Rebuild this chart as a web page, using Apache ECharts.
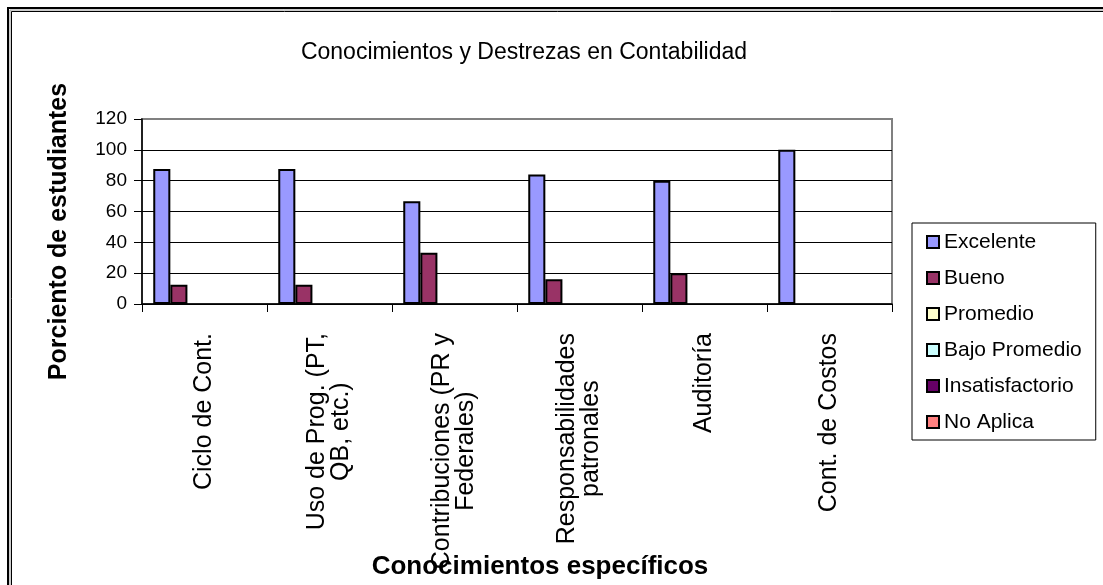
<!DOCTYPE html>
<html>
<head>
<meta charset="utf-8">
<script src="https://cdn.jsdelivr.net/npm/echarts@6/dist/echarts.min.js"></script>
<style>
  html, body { margin: 0; padding: 0; background: #fff; }
  #chart { width: 1103px; height: 585px; }
</style>
</head>
<body>
<div id="chart"></div>
<script>
// categorías del eje X (con saltos de línea como en el original)
const categories = [
  'Ciclo de Cont.',
  'Uso de Prog. (PT,\nQB, etc.)',
  'Contribuciones (PR y\nFederales)',
  'Responsabilidades\npatronales',
  'Auditoría',
  'Cont. de Costos'
]
const seriesNames = ['Excelente', 'Bueno', 'Promedio', 'Bajo Promedio', 'Insatisfactorio', 'No Aplica']
const excelente = [87.5, 87.5, 66.7, 84, 80, 100]
const bueno = [12.5, 12.5, 33.3, 16, 20, 0]
const promedio = [0, 0, 0, 0, 0, 0]
const bajoPromedio = [0, 0, 0, 0, 0, 0]
const insatisfactorio = [0, 0, 0, 0, 0, 0]
const noAplica = [0, 0, 0, 0, 0, 0]
const yTicks = [0, 20, 40, 60, 80, 100, 120]

const seriesData = [excelente, bueno, promedio, bajoPromedio, insatisfactorio, noAplica]
const colors = ['#9999FF', '#993366', '#FFFFCC', '#CCFFFF', '#660066', '#FF8080']
const FONT = '"Liberation Sans", Arial, sans-serif'

const chart = echarts.init(document.getElementById('chart'), null, { renderer: 'canvas' })

chart.setOption({
  backgroundColor: '#fff',
  animation: false,
  title: {
    text: 'Conocimientos y Destrezas en Contabilidad',
    left: 519,
    top: 36,
    textAlign: 'center',
    textStyle: { fontFamily: FONT, fontSize: 23, fontWeight: 'normal', color: '#000' }
  },
  legend: {
    orient: 'vertical',
    left: 912,
    top: 223,
    padding: [8, 14, 7, 14],
    borderColor: '#000',
    borderWidth: 1,
    icon: 'rect',
    itemWidth: 12,
    itemHeight: 12,
    itemGap: 14,
    data: seriesNames,
    textStyle: { fontFamily: FONT, fontSize: 21, lineHeight: 22, color: '#000' }
  },
  grid: {
    left: 142, right: 211, top: 119, bottom: 281,
    outerBoundsMode: 'none',
    show: true, borderColor: '#808080', borderWidth: 2
  },
  xAxis: {
    type: 'category',
    data: categories,
    name: 'Conocimientos específicos',
    nameLocation: 'middle',
    nameGap: 250,
    nameMoveOverlap: false,
    nameTextStyle: {
      fontFamily: FONT, fontSize: 26, fontWeight: 'bold', color: '#000',
      padding: [0, 0, 0, 46]
    },
    axisLine: { lineStyle: { color: '#000', width: 1.5 } },
    axisTick: { show: true, length: 8, lineStyle: { color: '#000' } },
    axisLabel: {
      interval: 0,
      rotate: 90,
      margin: 29,
      fontFamily: FONT,
      fontSize: 25,
      lineHeight: 24,
      color: '#000',
      // cada línea centrada como en Excel
      formatter: (v) => v.split('\n').map((s) => '{c|' + s + '}').join('\n'),
      rich: { c: { align: 'center', fontFamily: FONT, fontSize: 25, lineHeight: 24, color: '#000' } }
    }
  },
  yAxis: {
    type: 'value',
    min: yTicks[0],
    max: yTicks[yTicks.length - 1],
    interval: 20,
    name: 'Porciento de estudiantes',
    nameLocation: 'middle',
    nameGap: 70,
    nameMoveOverlap: false,
    nameRotate: 90,
    nameTextStyle: {
      fontFamily: FONT, fontSize: 25, fontWeight: 'bold', color: '#000',
      padding: [0, 40, 0, 0]
    },
    axisLine: { show: true, lineStyle: { color: '#000', width: 1.5 } },
    axisTick: { show: true, length: 8, lineStyle: { color: '#000' } },
    axisLabel: { margin: 15, fontFamily: FONT, fontSize: 19, color: '#000' },
    splitLine: {
      lineStyle: { color: ['#000', '#000', '#000', '#000', '#000', '#000', '#808080'], width: 1 }
    }
  },
  // los valores 0 no se dibujan (como en Excel)
  series: seriesNames.map((name, i) => ({
    name,
    type: 'bar',
    data: seriesData[i].map((v) => (v === 0 ? '-' : v)),
    barGap: '0%',
    barCategoryGap: '18%',
    itemStyle: { color: colors[i], borderColor: '#000', borderWidth: 2 }
  })),
  graphic: [
    { type: 'rect', silent: true, shape: { x: 8, y: 8, width: 1300, height: 800 }, style: { fill: null, stroke: '#000', lineWidth: 2 } },
    { type: 'rect', silent: true, shape: { x: 10, y: 10, width: 1300, height: 800 }, style: { fill: null, stroke: '#999', lineWidth: 1 } },
    { type: 'rect', silent: true, shape: { x: 11.5, y: 11.5, width: 1300, height: 800 }, style: { fill: null, stroke: '#000', lineWidth: 1 } }
  ]
})
</script>
</body>
</html>
